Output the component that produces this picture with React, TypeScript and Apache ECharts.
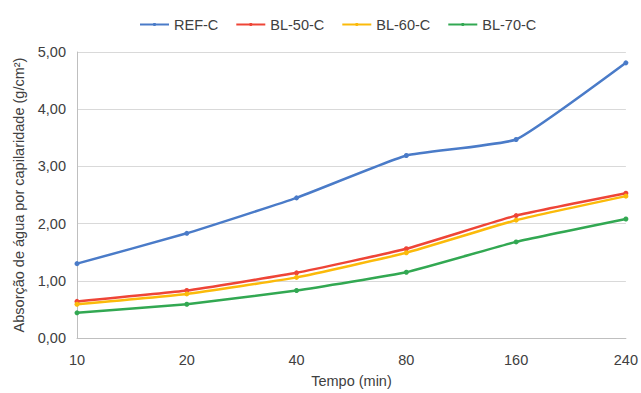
import React, { useEffect, useRef } from "react";
import * as echarts from "echarts";

const categories = ["10", "20", "40", "80", "160", "240"];
const refC = [1.3, 1.83, 2.45, 3.19, 3.47, 4.81];
const bl50 = [0.64, 0.83, 1.14, 1.56, 2.14, 2.53];
const bl60 = [0.59, 0.77, 1.06, 1.49, 2.06, 2.48];
const bl70 = [0.44, 0.59, 0.83, 1.15, 1.68, 2.08];
const seriesNames = ["REF-C", "BL-50-C", "BL-60-C", "BL-70-C"];
const colors = ["#4A7BC8", "#EE4537", "#FBBA0A", "#32A852"];

export default function App() {
  const ref = useRef<HTMLDivElement>(null);
  useEffect(() => {
    if (!ref.current) return;
    const chart = echarts.init(ref.current, null, { renderer: "svg" });
    const data = [refC, bl50, bl60, bl70];
    chart.setOption({
      animation: false,
      textStyle: { fontFamily: "Liberation Sans, Arial, sans-serif" },
      legend: {
        top: 12,
        left: 134,
        itemWidth: 29,
        itemHeight: 4,
        itemGap: 17,
        textStyle: { fontSize: 14.5, color: "#404040" },
        data: seriesNames,
      },
      grid: { left: 77, right: 12, top: 52, bottom: 46, containLabel: false },
      xAxis: {
        type: "category",
        data: categories,
        boundaryGap: false,
        name: "Tempo (min)",
        nameLocation: "middle",
        nameGap: 35,
        nameTextStyle: { fontSize: 14.5, color: "#404040" },
        axisLine: { lineStyle: { color: "#BFBFBF" } },
        axisTick: { show: false },
        axisLabel: { fontSize: 14.5, color: "#404040", margin: 14 },
      },
      yAxis: {
        type: "value",
        min: 0,
        max: 5,
        interval: 1,
        name: "Absorção de água por capilaridade (g/cm²)",
        nameLocation: "middle",
        nameGap: 45,
        nameTextStyle: { fontSize: 14.5, color: "#404040" },
        axisLine: { show: true, lineStyle: { color: "#BFBFBF" } },
        axisTick: { show: false },
        axisLabel: {
          fontSize: 14.5,
          color: "#404040",
          margin: 11,
          formatter: (v: number) => v.toFixed(2).replace(".", ","),
        },
        splitLine: { lineStyle: { color: "#D9D9D9" } },
      },
      series: seriesNames.map((name, i) => ({
        name,
        type: "line",
        data: data[i],
        smooth: 0.12,
        symbol: "circle",
        symbolSize: 5,
        color: colors[i],
        lineStyle: { width: 2.5, color: colors[i] },
        itemStyle: { color: colors[i] },
      })),
    });
    return () => chart.dispose();
  }, []);
  return <div ref={ref} style={{ width: 641, height: 393, position: "absolute", left: 0, top: 0 }} />;
}
